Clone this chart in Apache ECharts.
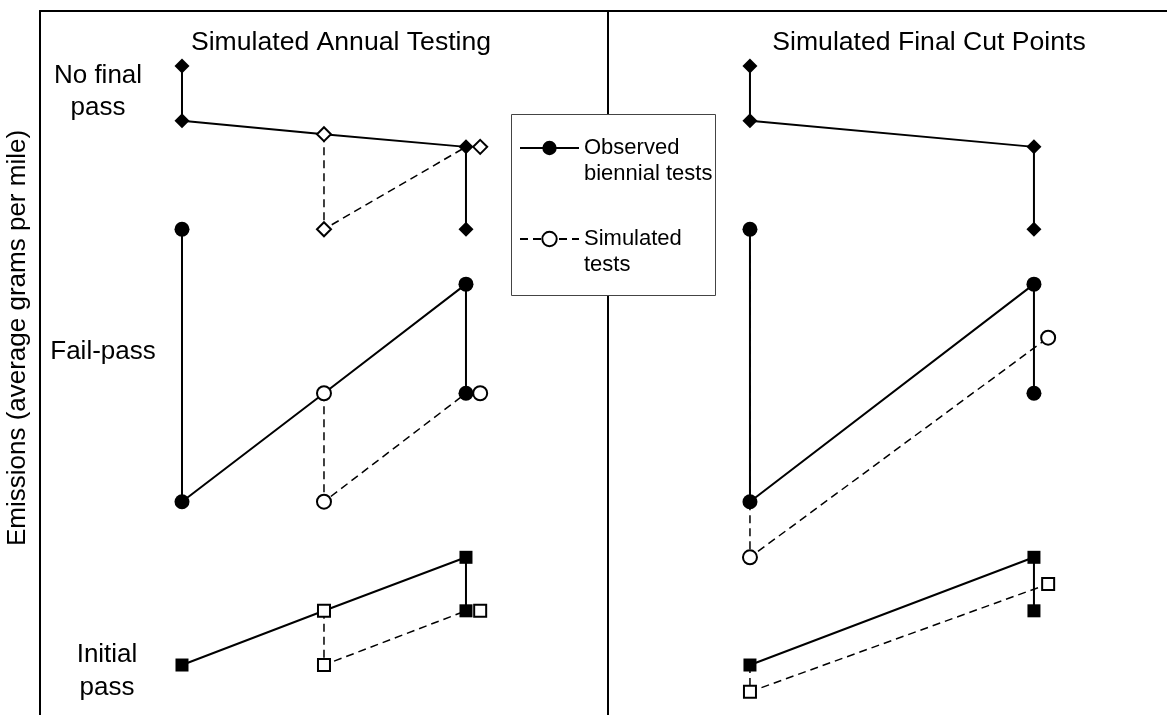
<!DOCTYPE html>
<html><head><meta charset="utf-8">
<script src="https://cdn.jsdelivr.net/npm/echarts@6/dist/echarts.min.js"></script>
<style>html,body{margin:0;padding:0;background:#fff}#c{width:1167px;height:715px}</style>
</head><body><div id="c"></div>
<script>
// ---- texts ----
const panelTitles = ['Simulated Annual Testing', 'Simulated Final Cut Points'];
const groupLabels = ['No final\npass', 'Fail-pass', 'Initial\npass'];
const legendNames = ['Observed biennial tests', 'Simulated tests'];
const legendLabels = ['Observed\nbiennial tests', 'Simulated\ntests'];
const yTitle = 'Emissions (average grams per mile)';

// ---- x positions: left panel tests at 1..3, right panel at 5..7, divider at 4 ----
const panelDivider = 4;

// ---- observed (solid) paths [x, emissions] ----
const obsNoFinalAnnual  = [[1, 92.2], [1, 84.4], [2, 82.5], [3, 80.7], [3, 69.0]];
const obsFailPassAnnual = [[1, 69.0], [1, 30.3], [2, 45.7], [3, 61.2], [3, 45.7]];
const obsInitialAnnual  = [[1, 7.1], [2, 14.8], [3, 22.4], [3, 14.8]];
const obsNoFinalCut     = [[5, 92.2], [5, 84.4], [7, 80.7], [7, 69.0]];
const obsFailPassCut    = [[5, 69.0], [5, 30.3], [7, 61.2], [7, 45.7]];
const obsInitialCut     = [[5, 7.1], [7, 22.4], [7, 14.8]];

// ---- simulated (dashed) paths ----
const simNoFinalAnnual  = [[2, 82.5], [2, 69.0], [3, 80.7]];
const simFailPassAnnual = [[2, 45.7], [2, 30.3], [3, 45.7]];
const simInitialAnnual  = [[2, 14.8], [2, 7.1], [3, 14.8]];
const simFailPassCut    = [[5, 69.0], [5, 22.4], [7.1, 53.6]];
const simInitialCut     = [[5, 7.1], [5, 3.3], [7.1, 18.6]];

// ---- markers ----
const obsDiamonds = [[1, 92.2], [1, 84.4], [3, 80.7], [3, 69.0], [5, 92.2], [5, 84.4], [7, 80.7], [7, 69.0]];
const simDiamonds = [[2, 82.5], [2, 69.0], [3.1, 80.7]];
const obsCircles  = [[1, 69.0], [1, 30.3], [3, 61.2], [3, 45.7], [5, 69.0], [5, 30.3], [7, 61.2], [7, 45.7]];
const simCircles  = [[2, 45.7], [2, 30.3], [3.1, 45.7], [5, 22.4], [7.1, 53.6]];
const obsSquares  = [[1, 7.1], [3, 22.4], [3, 14.8], [5, 7.1], [7, 22.4], [7, 14.8]];
const simSquares  = [[2, 14.8], [2, 7.1], [3.1, 14.8], [5, 3.3], [7.1, 18.6]];

const FONT = '"Liberation Sans", Arial, Helvetica, sans-serif';
const chart = echarts.init(document.getElementById('c'), null, {renderer: 'canvas'});

const obsPaths = [obsNoFinalAnnual, obsFailPassAnnual, obsInitialAnnual, obsNoFinalCut, obsFailPassCut, obsInitialCut];
const simPaths = [simNoFinalAnnual, simFailPassAnnual, simInitialAnnual, simFailPassCut, simInitialCut];

const series = [];
simPaths.forEach(function (p, i) {
  const s = {
    name: legendNames[1], type: 'line', data: p, z: 1,
    symbol: 'emptyCircle', showSymbol: false, silent: true,
    color: '#000', itemStyle: {color: '#000'},
    lineStyle: {color: '#000', width: 1.5, type: [8, 5]},
    emphasis: {disabled: true}
  };
  if (i === 0) {
    s.markLine = {
      silent: true, symbol: ['none', 'none'], label: {show: false},
      lineStyle: {color: '#000', width: 2, type: 'solid'},
      data: [{xAxis: panelDivider}]
    };
  }
  series.push(s);
});
obsPaths.forEach(function (p) {
  series.push({
    name: legendNames[0], type: 'line', data: p, z: 2,
    symbol: 'circle', showSymbol: false, silent: true,
    color: '#000', itemStyle: {color: '#000'},
    lineStyle: {color: '#000', width: 2, type: 'solid'},
    emphasis: {disabled: true}
  });
});
function markers(name, data, symbol, size, open) {
  return {
    name: name, type: 'scatter', data: data, symbol: symbol, symbolSize: size,
    z: open ? 3 : 4, silent: true, emphasis: {disabled: true},
    itemStyle: open ? {color: '#fff', borderColor: '#000', borderWidth: 2, opacity: 1}
                    : {color: '#000', opacity: 1}
  };
}
series.push(markers('simDiamond', simDiamonds, 'diamond', 14, true));
series.push(markers('simCircle', simCircles, 'circle', 14, true));
series.push(markers('simSquare', simSquares, 'rect', 12, true));
series.push(markers('obsDiamond', obsDiamonds, 'diamond', 15, false));
series.push(markers('obsCircle', obsCircles, 'circle', 15, false));
series.push(markers('obsSquare', obsSquares, 'rect', 13, false));

const txt = function (t, x, y, size, extra) {
  return Object.assign({
    type: 'text', z: 12,
    style: {text: t, x: x, y: y, align: 'center', verticalAlign: 'middle',
            font: size + 'px ' + FONT, fill: '#000'}
  }, extra || {});
};

chart.setOption({
  animation: false,
  backgroundColor: '#fff',
  grid: {left: 40, top: 11, right: 0, bottom: 0, containLabel: false},
  xAxis: {
    type: 'value', min: 0, max: 7.937, position: 'top',
    axisLine: {show: true, onZero: false, lineStyle: {color: '#000', width: 2}},
    axisTick: {show: false}, axisLabel: {show: false}, splitLine: {show: false}
  },
  yAxis: {
    type: 'value', min: 0, max: 100,
    axisLine: {show: true, onZero: false, lineStyle: {color: '#000', width: 2}},
    axisTick: {show: false}, axisLabel: {show: false}, splitLine: {show: false}
  },
  legend: {
    data: legendNames, orient: 'vertical', left: 519, top: 109, z: 11,
    padding: 0, itemGap: 13, itemWidth: 59, itemHeight: 18,
    selectedMode: false,
    formatter: function (n) { return '\n' + legendLabels[legendNames.indexOf(n)]; },
    textStyle: {fontSize: 22, lineHeight: 26, color: '#000', fontFamily: FONT}
  },
  graphic: [
    {type: 'rect', z: 10, shape: {x: 511.5, y: 114.5, width: 204, height: 181},
     style: {fill: '#fff', stroke: '#444', lineWidth: 1}},
    txt(panelTitles[0], 341, 43, 26.6),
    txt(panelTitles[1], 929, 43, 26.6),
    {type: 'text', z: 12, style: {text: groupLabels[0], x: 98, y: 92, align: 'center', verticalAlign: 'middle', lineHeight: 32, font: '26px ' + FONT, fill: '#000'}},
    txt(groupLabels[1], 103, 352, 26),
    {type: 'text', z: 12, style: {text: groupLabels[2], x: 107, y: 671, align: 'center', verticalAlign: 'middle', lineHeight: 33, font: '26px ' + FONT, fill: '#000'}},
    {type: 'text', z: 12, x: 18, y: 338, rotation: Math.PI / 2,
     style: {text: yTitle, x: 0, y: 0, align: 'center', verticalAlign: 'middle', font: '26px ' + FONT, fill: '#000'}}
  ],
  series: series
});
</script></body></html>
